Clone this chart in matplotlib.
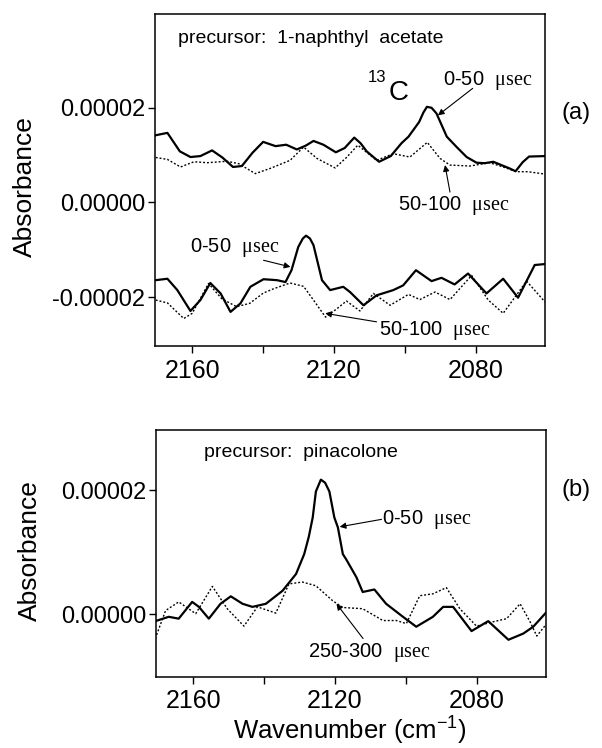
import matplotlib
matplotlib.use('Agg')
import matplotlib.pyplot as plt
import numpy as np

plt.rcParams['font.family'] = ['Liberation Sans', 'DejaVu Sans']
plt.rcParams['mathtext.fontset'] = 'custom'
plt.rcParams['mathtext.rm'] = 'Liberation Serif'
plt.rcParams['mathtext.sf'] = 'Liberation Sans'
plt.rcParams['axes.unicode_minus'] = False

# absorbance values in units of 1e-5
scale = 1e-5

# (a) 1-naphthyl acetate, upper pair
a_top_solid_x = [2170.3, 2167, 2163.5, 2160.5, 2157.7, 2154.4, 2151.5, 2148.5, 2146, 2143, 2140,
                 2136.5, 2133.5, 2130.5, 2128, 2125.8, 2123, 2119.5, 2117, 2114.3, 2112.5, 2110.8,
                 2107.3, 2104, 2101, 2099, 2096, 2094.8, 2093.8, 2092.5, 2091.1, 2088.2, 2085.4,
                 2082.6, 2079.8, 2077.5, 2075.1, 2072.8, 2070.5, 2068.8, 2066.8, 2065, 2060.5]
a_top_solid_y = [1.42, 1.47, 1.08, 0.96, 0.98, 1.10, 0.95, 0.75, 0.77, 1.05, 1.28,
                 1.19, 1.22, 1.12, 1.20, 1.30, 1.22, 1.06, 1.15, 1.37, 1.25, 1.08,
                 0.86, 0.98, 1.25, 1.39, 1.70, 1.90, 2.02, 2.00, 1.88, 1.39, 1.17,
                 0.96, 0.84, 0.83, 0.86, 0.79, 0.72, 0.66, 0.85, 0.97, 0.98]
a_top_dot_x = [2170.3, 2167, 2163.3, 2159.5, 2155.8, 2150.2, 2146.9, 2142.2, 2138, 2132.4, 2128.6,
               2124.8, 2119.7, 2116.5, 2113.3, 2108, 2103.3, 2098.6, 2093.7, 2090.1, 2087.3,
               2081.7, 2076.1, 2072.3, 2068.6, 2065.3, 2060.5]
a_top_dot_y = [0.95, 0.91, 0.75, 0.86, 0.84, 0.87, 0.82, 0.61, 0.72, 0.89, 1.17,
               0.93, 0.73, 0.95, 1.21, 0.89, 1.03, 0.96, 1.27, 0.93, 0.79,
               0.77, 0.84, 0.75, 0.65, 0.65, 0.60]

# (a) lower pair
a_low_solid_x = [2170.3, 2167, 2164.2, 2160.5, 2157.7, 2154.9, 2152, 2149.2, 2146.4, 2143.6, 2139.9,
                 2136.1, 2133.7, 2132, 2130.1, 2128.8, 2127.9, 2126.8, 2125.8, 2123.4, 2121.1, 2117.4,
                 2115.5, 2111.7, 2108, 2103.3, 2100.5, 2096.9, 2092.5, 2089.7, 2086, 2082.2, 2077,
                 2072.3, 2068.1, 2063.4, 2060.5]
a_low_solid_y = [-1.64, -1.61, -1.85, -2.29, -2.06, -1.70, -1.92, -2.31, -2.13, -1.78, -1.62,
                 -1.64, -1.68, -1.43, -0.94, -0.76, -0.70, -0.76, -0.90, -1.64, -1.85, -1.78,
                 -1.89, -2.17, -1.96, -1.85, -1.75, -1.43, -1.66, -1.59, -1.73, -1.50, -1.92,
                 -1.61, -2.01, -1.32, -1.30]
a_low_dot_x = [2170.3, 2167, 2162.4, 2160, 2155.4, 2151.7, 2147.5, 2143.8, 2139.9, 2137, 2132.4,
               2128.6, 2125.8, 2122.4, 2119.3, 2116.5, 2112.7, 2108.9, 2104.2, 2099, 2095.8,
               2091.5, 2087.3, 2081.2, 2076.5, 2072.3, 2065.7, 2060.5]
a_low_dot_y = [-2.06, -2.12, -2.45, -2.34, -1.71, -2.03, -2.20, -2.13, -1.91, -1.82, -1.70,
               -1.77, -2.06, -2.42, -2.25, -2.08, -2.29, -1.92, -2.17, -1.94, -2.05,
               -1.89, -2.05, -1.54, -2.06, -2.34, -1.66, -2.10]

# (b) pinacolone
b_solid_x = [2170.7, 2166.9, 2164.1, 2160.3, 2158.4, 2155.6, 2152.3, 2149.4, 2146.1, 2143.3, 2139.5,
             2134.8, 2131, 2128.7, 2127.4, 2126.3, 2125.4, 2124, 2122.8, 2121.6, 2120.2, 2119.2,
             2117.8, 2116.9, 2114, 2112.2, 2108.9, 2105.6, 2101.3, 2097.1, 2092.4, 2089.5, 2086.7,
             2081.5, 2076.8, 2071.1, 2066.9, 2064.1, 2060.3]
b_solid_y = [-0.11, -0.04, -0.07, 0.20, 0.12, -0.07, 0.17, 0.29, 0.17, 0.12, 0.17,
             0.38, 0.65, 0.97, 1.25, 1.56, 1.98, 2.17, 2.12, 1.98, 1.56, 1.40,
             0.97, 0.89, 0.60, 0.36, 0.40, 0.17, -0.02, -0.20, -0.04, 0.12, 0.12,
             -0.27, -0.11, -0.41, -0.31, -0.20, 0.04]
b_dot_x = [2170.7, 2167.8, 2164.1, 2159.3, 2154.6, 2150.4, 2145.7, 2141.9, 2136.7, 2133, 2129.2,
           2125.4, 2120.7, 2117.8, 2112.2, 2106.5, 2102.7, 2099.9, 2096.1, 2092.4, 2088.6,
           2084.8, 2080.1, 2075.4, 2071.6, 2067.8, 2065, 2063.1, 2060.3]
b_dot_y = [-0.39, 0.06, 0.20, 0.01, 0.45, 0.09, -0.19, 0.12, 0.02, 0.49, 0.52,
           0.46, 0.22, 0.11, 0.09, -0.10, -0.10, -0.15, 0.30, 0.33, 0.43,
           0.09, -0.19, -0.12, -0.07, 0.17, -0.12, -0.35, -0.15]

x_ticks = [2160, 2140, 2120, 2100, 2080]
x_labels = ['2160', '', '2120', '', '2080']

W, H = 602, 748
fig = plt.figure(figsize=(W / 100, H / 100), dpi=100)
ax1 = fig.add_axes([155 / W, 1 - 346 / H, 390 / W, 332 / H])
ax2 = fig.add_axes([156 / W, 1 - 677 / H, 390 / W, 247 / H])

dot = (0, (1.4, 1.4))
solid_kw = dict(color='black', lw=1.6, solid_joinstyle='round')
dot_kw = dict(color='black', lw=1.0, linestyle=dot)

ax1.plot(a_top_solid_x, np.array(a_top_solid_y) * scale, **solid_kw)
ax1.plot(a_top_dot_x, np.array(a_top_dot_y) * scale, **dot_kw)
ax1.plot(a_low_solid_x, np.array(a_low_solid_y) * scale, **solid_kw)
ax1.plot(a_low_dot_x, np.array(a_low_dot_y) * scale, **dot_kw)

ax2.plot(b_solid_x, np.array(b_solid_y) * scale, **solid_kw)
ax2.plot(b_dot_x, np.array(b_dot_y) * scale, **dot_kw)

for ax in (ax1, ax2):
    ax.set_xlim(2170.5, 2060.5)
    ax.set_xticks(x_ticks)
    ax.set_xticklabels(x_labels)
    ax.tick_params(direction='out', length=5, width=1.0, labelsize=18, pad=4)
    ax.tick_params(axis='y', labelsize=17, pad=2)
    for s in ax.spines.values():
        s.set_linewidth(1.1)

ax1.set_ylim(-3.03e-5, 3.98e-5)
ax1.set_yticks([-2e-5, 0, 2e-5])
ax1.set_yticklabels(['-0.00002', '0.00000', '0.00002'])
ax2.set_ylim(-1.01e-5, 2.97e-5)
ax2.set_yticks([0, 2e-5])
ax2.set_yticklabels(['0.00000', '0.00002'])

us = r'$\mathrm{\mu sec}$'
arrow = dict(arrowstyle='-|>', color='black', lw=0.8, mutation_scale=9, shrinkA=0, shrinkB=0)

# panel (a) annotations
ax1.text(2164.1, 3.47 * scale, 'precursor:  1-naphthyl  acetate', fontsize=14, va='center')
ax1.text(2110.6, 2.63 * scale, '13', fontsize=12, va='center')
ax1.text(2104.5, 2.32 * scale, 'C', fontsize=20, va='center')
ax1.text(2089.3, 2.58 * scale, '0-50  ' + us, fontsize=14.5, va='center')
ax1.annotate('', xy=(2090.7, 1.84 * scale), xytext=(2080.9, 2.41 * scale), arrowprops=arrow)
ax1.text(2101.9, -0.06 * scale, '50-100  ' + us, fontsize=14.5, va='center')
ax1.annotate('', xy=(2088.7, 0.79 * scale), xytext=(2087.3, 0.22 * scale), arrowprops=arrow)
ax1.text(2160.5, -0.94 * scale, '0-50  ' + us, fontsize=14.5, va='center')
ax1.annotate('', xy=(2132.3, -1.36 * scale), xytext=(2139.9, -1.22 * scale), arrowprops=arrow)
ax1.text(2107.3, -2.70 * scale, '50-100  ' + us, fontsize=14.5, va='center')
ax1.annotate('', xy=(2122.5, -2.34 * scale), xytext=(2108.0, -2.52 * scale), arrowprops=arrow)

# panel (b) annotations
ax2.text(2156.9, 2.6 * scale, 'precursor:  pinacolone', fontsize=14, va='center')
ax2.text(2106.8, 1.53 * scale, '0-50  ' + us, fontsize=14.5, va='center')
ax2.annotate('', xy=(2118.7, 1.41 * scale), xytext=(2106.9, 1.53 * scale), arrowprops=arrow)
ax2.text(2127.5, -0.61 * scale, '250-300  ' + us, fontsize=14.5, va='center')
ax2.annotate('', xy=(2119.6, 0.17 * scale), xytext=(2112.1, -0.39 * scale), arrowprops=arrow)

fig.text(25 / W, 1 - 187 / H, 'Absorbance', rotation=90, fontsize=19, ha='center', va='center')
fig.text(30 / W, 1 - 551 / H, 'Absorbance', rotation=90, fontsize=19, ha='center', va='center')
fig.text(576 / W, 1 - 113 / H, '(a)', fontsize=17, ha='center', va='center')
fig.text(576 / W, 1 - 490 / H, '(b)', fontsize=17, ha='center', va='center')
fig.text(350 / W, 1 - 730 / H, r'Wavenumber (cm$^{\mathsf{-1}}$)', fontsize=18.5, ha='center', va='center')

fig.savefig('out.png', dpi=100)
